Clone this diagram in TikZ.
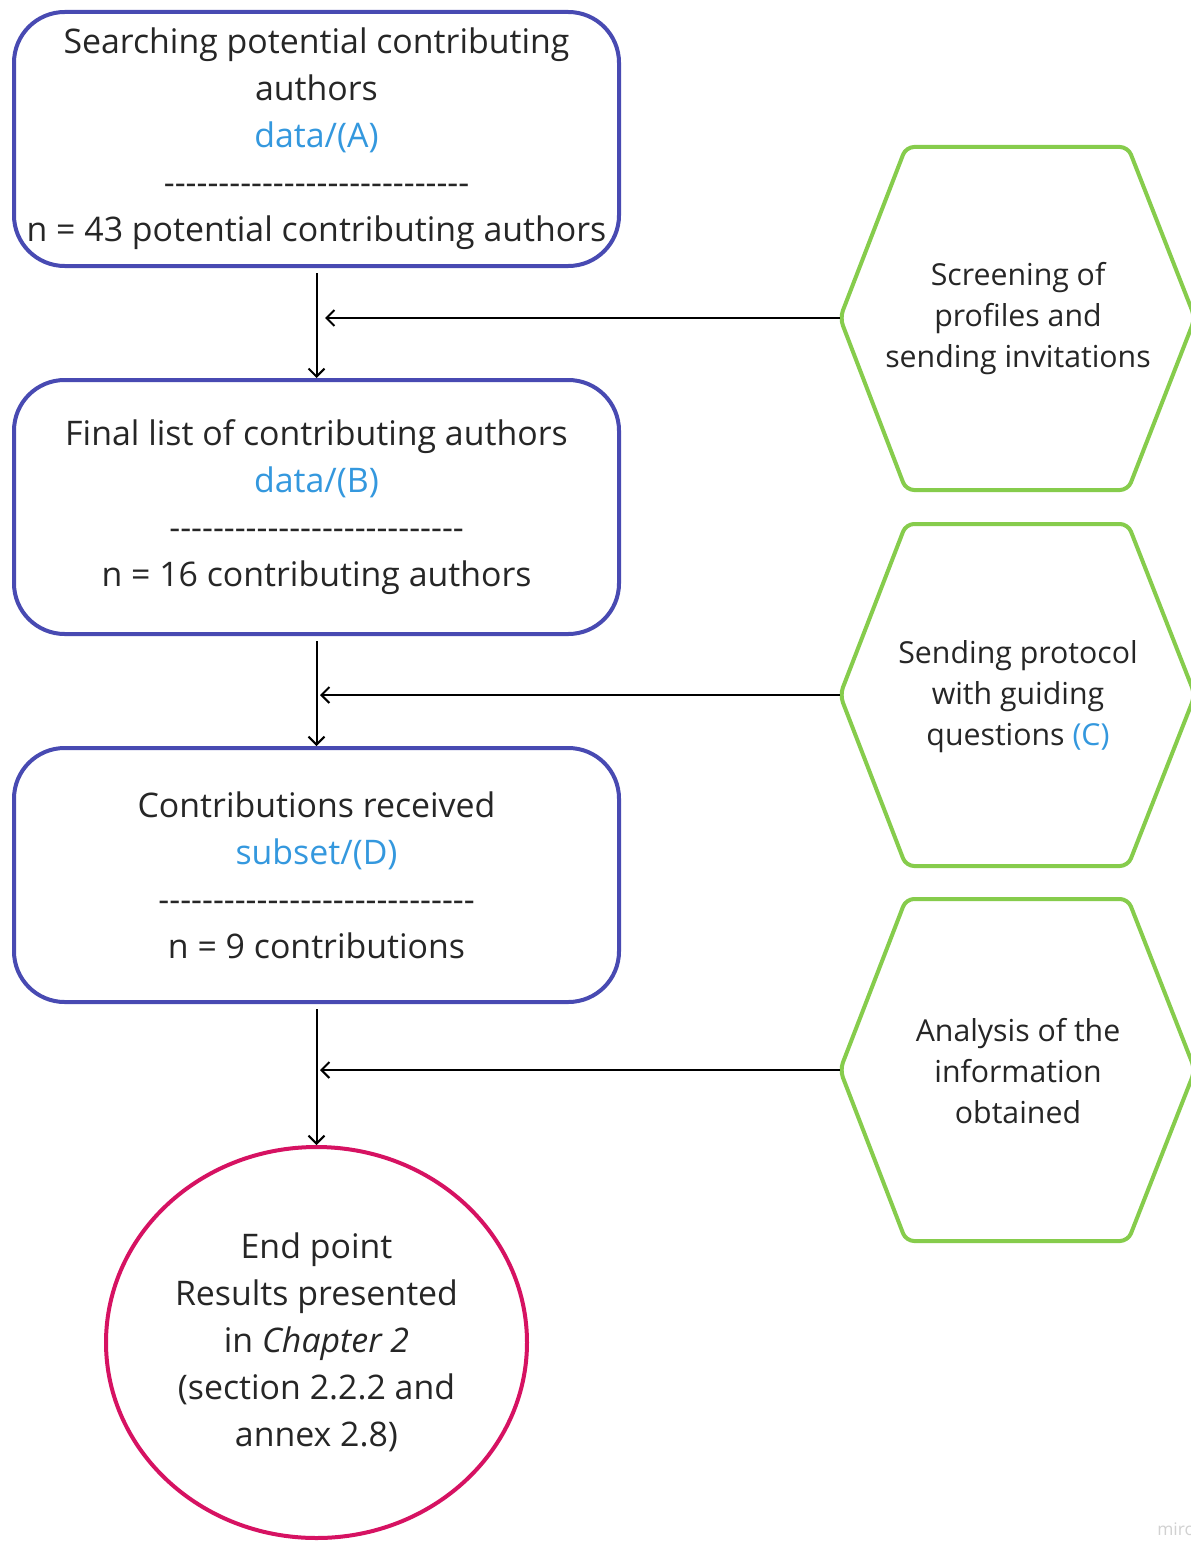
\documentclass[tikz,border=0pt]{standalone}
\usepackage{fontspec}
\setmainfont{Open Sans}
\usetikzlibrary{arrows.meta,shapes.geometric}
\definecolor{boxblue}{RGB}{72,74,178}
\definecolor{txtblue}{RGB}{52,152,222}
\definecolor{hexgreen}{RGB}{134,204,76}
\definecolor{endpink}{RGB}{214,18,98}
\definecolor{txtgray}{RGB}{38,38,38}
\newcommand\hyrow[1]{\count255=0 \loop -{}\advance\count255 by 1 \ifnum\count255<#1\repeat}
\tikzset{
  stepbox/.style={draw=boxblue, line width=3pt, rounded corners=38pt,
    minimum width=453.75pt, minimum height=190.5pt, align=center,
    text=txtgray, font=\fontsize{25.4}{35.25}\selectfont, inner sep=0pt},
  hexline/.style={draw=hexgreen, line width=3pt, rounded corners=6pt},
  hextext/.style={align=center, text=txtgray, font=\fontsize{22.7}{30.75}\selectfont, inner sep=0pt},
  endnode/.style={draw=endpink, line width=3pt, ellipse, minimum width=315.75pt,
    minimum height=293.25pt, align=center, text=txtgray,
    font=\fontsize{25.4}{35.25}\selectfont, inner sep=0pt},
  flow/.style={draw=black, line width=1.5pt, -{Straight Barb[length=6pt,width=12pt,line width=1.5pt]}},
}
\begin{document}
\begin{tikzpicture}[x=0.75pt,y=-0.75pt]
\useasboundingbox (0,0) rectangle (1191,1541);
\fill[white] (0,0) rectangle (1191,1541);
% main boxes
\node[stepbox] (b1) at (316.5,139) {Searching potential contributing\\authors\\\textcolor{txtblue}{data/(A)}\\\hyrow{28}\\n = 43 potential contributing authors};
\node[stepbox] (b2) at (316.5,507) {Final list of contributing authors\\\textcolor{txtblue}{data/(B)}\\\hyrow{27}\\n = 16 contributing authors};
\node[stepbox] (b3) at (316.5,875) {Contributions received\\\textcolor{txtblue}{subset/(D)}\\\hyrow{29}\\n = 9 contributions};
\node[endnode] (e) at (316.5,1342.5) {End point\\Results presented\\in \textit{Chapter 2}\\(section 2.2.2 and\\annex 2.8)};
% hexagons
\draw[hexline] (840,318) -- (906,147) -- (1128,147) -- (1195,318) -- (1128,490) -- (906,490) -- cycle;
\draw[hexline] (840,695) -- (906,524) -- (1128,524) -- (1195,695) -- (1128,866) -- (906,866) -- cycle;
\draw[hexline] (840,1070) -- (906,899) -- (1128,899) -- (1195,1070) -- (1128,1241) -- (906,1241) -- cycle;
\node[hextext] (h1) at (1018,319) {Screening of\\profiles and\\sending invitations};
\node[hextext] (h2) at (1018,697) {Sending protocol\\with guiding\\questions \textcolor{txtblue}{(C)}};
\node[hextext] (h3) at (1018,1071) {Analysis of the\\information\\obtained};
\coordinate (h1w) at (840,318);
\coordinate (h2w) at (840,695);
\coordinate (h3w) at (840,1070);
\coordinate (j1) at (325,318);
\coordinate (j2) at (320,695);
\coordinate (j3) at (320,1070);
% connectors
\draw[flow, shorten <=4pt] (b1.south) -- (b2.north);
\draw[flow, shorten <=4pt] (b2.south) -- (b3.north);
\draw[flow, shorten <=4pt] (b3.south) -- (e.north);
\draw[flow] (h1w) -- (j1);
\draw[flow] (h2w) -- (j2);
\draw[flow] (h3w) -- (j3);
% watermark
\node[anchor=west, text=black!18, font=\fontsize{13}{14}\selectfont, inner sep=0pt] (wm) at (1157,1529) {miro};
\end{tikzpicture}
\end{document}
